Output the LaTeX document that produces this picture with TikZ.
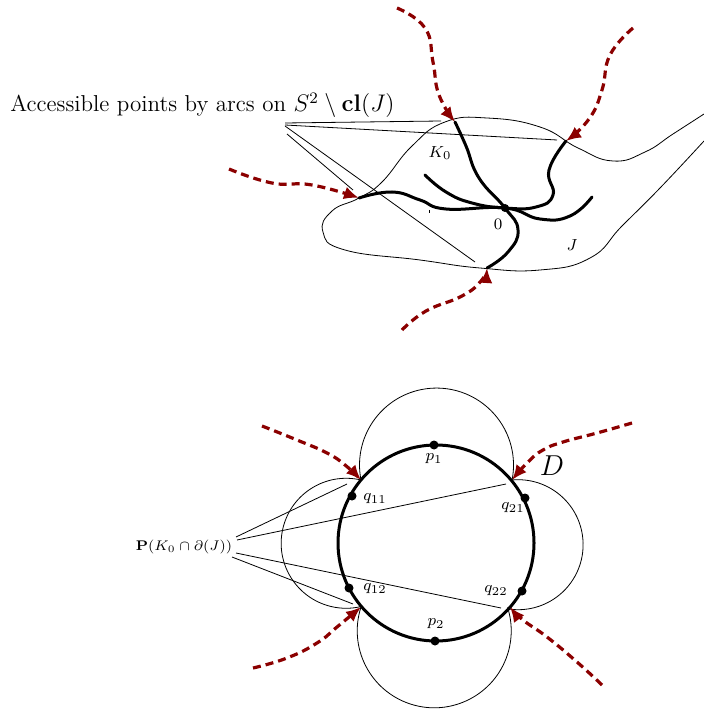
\documentclass[tikz,border=0pt]{standalone}
\usetikzlibrary{arrows.meta,positioning}
\definecolor{arcred}{RGB}{139,0,0}

\begin{document}
\begin{tikzpicture}[
  x=0.5pt,y=-0.5pt,
  strand/.style={line width=1.5pt,line cap=round},
  access/.style={arcred,line width=1.6pt,dash pattern=on 4pt off 2.5pt,
    -{Latex[length=7.5pt,width=6.5pt]}},
  pointer/.style={line width=0.4pt},
  dot/.style={circle,fill,inner sep=0pt,minimum size=4.5pt},
  lbl/.style={font=\footnotesize,inner sep=1pt}
]
  \useasboundingbox (0,0) rectangle (704,710);

  % ---- upper picture: the domain J and the continuum K_0
  \node[anchor=base west,inner sep=0pt,font=\fontsize{11.5}{13}\selectfont] (acc) at (10,112)
    {Accessible points by arcs on $S^2\setminus\mathbf{cl}(J)$};

  \coordinate (ta) at (455,122);
  \coordinate (tb) at (566,141);
  \coordinate (tc) at (359,198);
  \coordinate (td) at (487,268);
  \node[circle,fill,inner sep=0pt,minimum size=4pt] (zero) at (505,208) {};

  \draw[pointer] plot[smooth,tension=0.8] coordinates {(704,114) (673,134)
    (645,152) (613,161) (578,148) (540,127) (487,118) (445,122) (412,146)
    (382,182) (tc) (332,211) (323,232) (345,250) (420,260) (480,268)
    (540,270) (590,258) (622,226) (660,188) (704,141)};

  \draw[strand] plot[smooth,tension=0.8] coordinates {(ta) (466,146)
    (479,178) (zero) (518,230) (508,252) (td)};
  \draw[strand] plot[smooth,tension=0.8] coordinates {(425,175) (446,192)
    (472,203) (zero) (536,207) (553,195) (549,170) (tb)};
  \draw[strand] plot[smooth,tension=0.8] coordinates {(tc) (392,192)
    (420,200) (446,209) (zero) (540,219) (570,216) (592,197)};
  \draw[pointer] (429,210) -- (429,213);

  \node[lbl] (k0) at (440,153) {$K_0$};
  \node[lbl] (zl) at (498,224) {$0$};
  \node[lbl] (jl) at (572,245) {$J$};

  \draw[pointer] (285,123) -- (441,121);
  \draw[pointer] (285,125) -- (557,140);
  \draw[pointer] (285,126) -- (475,262);
  \draw[pointer] (287,134) -- (353,190);

  \draw[access] plot[smooth,tension=0.8] coordinates {(397,8) (425,28)
    (433,62) (439,95) (ta)};
  \draw[access] plot[smooth,tension=0.8] coordinates {(633,28) (610,55)
    (602,90) (589,119) (tb)};
  \draw[access] plot[smooth,tension=0.8] coordinates {(229,169) (272,183)
    (312,185) (tc)};
  \draw[access] plot[smooth,tension=0.8] coordinates {(402,330) (426,311)
    (462,296) (481,281) (td)};

  % ---- lower picture: the disk D
  \coordinate (ja) at (361,480);
  \coordinate (jb) at (512,480);
  \coordinate (jc) at (361,607);
  \coordinate (jd) at (510,607);

  \draw[pointer] (ja) arc[start angle=168.8,end angle=371.3,radius=77];
  \draw[pointer] (jc) arc[start angle=198,end angle=-17.7,radius=77];
  \draw[pointer] (ja) arc[start angle=283.2,end angle=76.6,radius=65];
  \draw[pointer] (jb) arc[start angle=-95.4,end angle=97.1,radius=65];

  \draw[line width=1.5pt] (436,543) circle[radius=98];

  \node[dot] (p1) at (434,445) {};
  \node[dot] (p2) at (435,641) {};
  \node[dot] (q11) at (352,496) {};
  \node[dot] (q21) at (525,498) {};
  \node[dot] (q12) at (349,588) {};
  \node[dot] (q22) at (522,591) {};

  \node[lbl] (p1l) at (434,459) {$p_1$};
  \node[lbl] (p2l) at (436,624) {$p_2$};
  \node[lbl] (q11l) at (375,499) {$q_{11}$};
  \node[lbl] (q21l) at (513,508) {$q_{21}$};
  \node[lbl] (q12l) at (375,589) {$q_{12}$};
  \node[lbl] (q22l) at (496,591) {$q_{22}$};
  \node[font=\Large] (dl) at (552,466) {$D$};

  \node[font=\fontsize{7.5}{9}\selectfont,inner sep=1pt] (pk) at (184,547)
    {$\mathbf{P}(K_0\cap\partial(J))$};
  \coordinate (sa) at (236,537);
  \coordinate (sb) at (237,540);
  \coordinate (sc) at (236,553);
  \coordinate (sd) at (232,557);
  \draw[pointer] (sa) -- (347,484);
  \draw[pointer] (sb) -- (506,484);
  \draw[pointer] (sc) -- (501,608);
  \draw[pointer] (sd) -- (353,604);

  \draw[access] plot[smooth,tension=0.8] coordinates {(262,426) (297,440)
    (327,453) (345,465) (ja)};
  \draw[access] plot[smooth,tension=0.8] coordinates {(632,423) (597,433)
    (563,442) (543,450) (528,462) (jb)};
  \draw[access] plot[smooth,tension=0.8] coordinates {(253,668) (287,658)
    (317,643) (337,627) (jc)};
  \draw[access] plot[smooth,tension=0.8] coordinates {(602,685) (577,662)
    (547,637) (523,620) (jd)};
\end{tikzpicture}
\end{document}
